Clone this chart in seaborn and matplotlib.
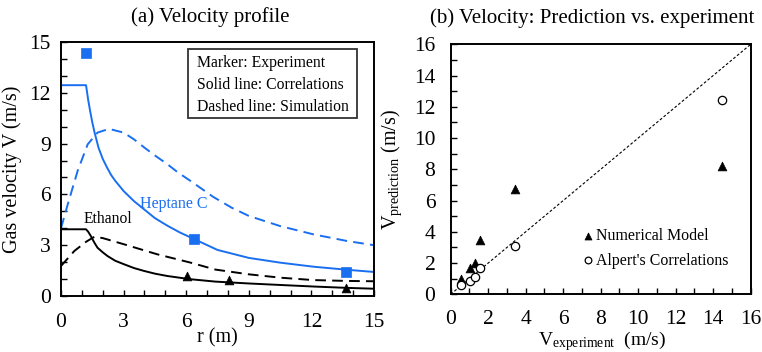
import numpy as np
import pandas as pd
import matplotlib
matplotlib.use("Agg")
import matplotlib.pyplot as plt
from matplotlib.patches import Rectangle
import seaborn as sns

# ---------------- data ----------------
# (a) Velocity profile
hep_corr_r = [0.0, 1.2, 1.3, 1.4, 1.5, 1.6, 1.8, 2.0, 2.2, 2.4, 2.6, 2.8, 3.0, 3.5, 4.0, 4.5, 5.1, 5.7, 6.4, 7.5, 9.0, 10.5, 12.1, 13.7, 15.0]
hep_corr_v = [12.45, 12.45, 11.6, 10.9, 10.25, 9.7, 8.75, 8.1, 7.6, 7.15, 6.8, 6.5, 6.2, 5.6, 5.1, 4.6, 4.15, 3.75, 3.35, 2.72, 2.25, 1.97, 1.73, 1.55, 1.42]

hep_sim_r = [0.0, 0.32, 0.8, 1.28, 1.75, 2.3, 3.0, 3.5, 4.0, 4.5, 5.1, 5.6, 6.2, 7.3, 8.2, 9.0, 10.5, 12.1, 13.7, 15.0]
hep_sim_v = [4.0, 5.4, 7.4, 8.96, 9.65, 9.87, 9.65, 9.25, 8.76, 8.3, 7.78, 7.3, 6.8, 5.85, 5.2, 4.73, 4.13, 3.64, 3.25, 3.0]

eth_corr_r = [0.0, 1.2, 1.3, 1.43, 1.6, 1.75, 2.0, 2.23, 2.6, 3.03, 3.5, 3.98, 4.5, 5.1, 6.21, 7.4, 9.0, 10.53, 12.1, 13.7, 15.0]
eth_corr_v = [3.94, 3.94, 3.8, 3.54, 3.15, 2.85, 2.58, 2.36, 2.08, 1.87, 1.65, 1.48, 1.32, 1.18, 0.99, 0.85, 0.74, 0.65, 0.56, 0.48, 0.43]

eth_sim_r = [0.0, 0.64, 1.2, 1.6, 2.0, 3.03, 4.62, 6.21, 7.4, 9.0, 10.53, 12.1, 13.7, 15.0]
eth_sim_v = [1.77, 2.66, 3.2, 3.5, 3.42, 3.05, 2.46, 1.97, 1.56, 1.28, 1.08, 0.94, 0.89, 0.87]

hep_exp_r = [1.19, 6.37, 13.68]
hep_exp_v = [14.33, 3.35, 1.44]
eth_exp_r = [6.05, 8.06, 13.68]
eth_exp_v = [1.18, 0.93, 0.45]

# (b) Prediction vs experiment
v_exp = [0.55, 1.03, 1.3, 1.57, 3.44, 14.49]
v_num = [0.96, 1.66, 2.02, 3.47, 6.72, 8.23]
v_alpert = [0.6, 0.87, 1.13, 1.66, 3.12, 12.43]

BLUE = "#1a6ff0"

# ---------------- style ----------------
sns.set_theme(style="ticks")
plt.rcParams["font.family"] = ["Liberation Serif", "DejaVu Serif"]
plt.rcParams["mathtext.fontset"] = "custom"
plt.rcParams["mathtext.rm"] = "Liberation Serif"
plt.rcParams["mathtext.it"] = "Liberation Serif:italic"
plt.rcParams["mathtext.bf"] = "Liberation Serif:bold"
plt.rcParams["axes.edgecolor"] = "black"
plt.rcParams["xtick.color"] = "black"
plt.rcParams["ytick.color"] = "black"
plt.rcParams["text.color"] = "black"
plt.rcParams["axes.labelcolor"] = "black"

fig = plt.figure(figsize=(7.62, 3.52), dpi=100)
W, H = 762.0, 352.0
ax1 = fig.add_axes([61 / W, 1 - 296 / H, 313 / W, 254 / H])
ax2 = fig.add_axes([450.7 / W, 1 - 294.3 / H, 300 / W, 250 / H])

dash = (0, (5.5, 3.2))

# ---------------- panel (a) ----------------
sns.lineplot(x=hep_corr_r, y=hep_corr_v, ax=ax1, color=BLUE, lw=1.4, sort=False, estimator=None)
sns.lineplot(x=hep_sim_r, y=hep_sim_v, ax=ax1, color=BLUE, lw=1.4, linestyle=dash, sort=False, estimator=None)
sns.lineplot(x=eth_corr_r, y=eth_corr_v, ax=ax1, color="black", lw=1.4, sort=False, estimator=None)
sns.lineplot(x=eth_sim_r, y=eth_sim_v, ax=ax1, color="black", lw=1.4, linestyle=dash, sort=False, estimator=None)
sns.scatterplot(x=hep_exp_r, y=hep_exp_v, ax=ax1, marker="s", s=45, color=BLUE, edgecolor=BLUE, linewidth=0.5, zorder=5)
sns.scatterplot(x=eth_exp_r, y=eth_exp_v, ax=ax1, marker="^", s=40, color="black", edgecolor="black", linewidth=0.5, zorder=5)

ax1.set_xlim(0, 15)
ax1.set_ylim(0, 15)
ax1.set_xticks(np.arange(0, 16, 3))
ax1.set_yticks(np.arange(0, 16, 3))
ax1.set_xticks(np.arange(0, 16, 1), minor=True)
ax1.set_yticks(np.arange(0, 16, 1), minor=True)
ax1.set_xlabel("r (m)", fontsize=14.5)
ax1.set_ylabel("Gas velocity V (m/s)", fontsize=14.5)
ax1.xaxis.set_label_coords(0.5, (296 - 328) / 254)
ax1.yaxis.set_label_coords((22 - 61) / 313, 0.5)
ax1.tick_params(axis="x", pad=12)
ax1.tick_params(axis="y", pad=7.5)

ax1.text(1.07, 4.31, "Ethanol", fontsize=11.2, color="black", ha="left", va="baseline")
ax1.text(3.79, 5.18, "Heptane C", fontsize=11.5, color=BLUE, ha="left", va="baseline")

x0 = (188.3 - 61) / 313
x1 = (356.7 - 61) / 313
yt = (296 - 49.3) / 254
yb = (296 - 118.3) / 254
ax1.add_patch(Rectangle((x0, yb), x1 - x0, yt - yb, transform=ax1.transAxes,
                        facecolor="white", edgecolor="#333333", lw=1.3, zorder=6))
for txt, yc in [("Marker: Experiment", 63.3), ("Solid line: Correlations", 85.0),
                ("Dashed line: Simulation", 106.7)]:
    ax1.text((196.7 - 61) / 313, (296 - yc) / 254, txt, transform=ax1.transAxes,
             fontsize=11.3, ha="left", va="center", zorder=7)

# ---------------- panel (b) ----------------
ax2.axline((0, 0), slope=1, color="black", lw=0.8, linestyle=(0, (2.5, 1.8)), zorder=1)
sns.scatterplot(x=v_exp, y=v_num, ax=ax2, marker="^", s=40, color="black", edgecolor="black",
                linewidth=0.5, zorder=4, label="Numerical Model")
sns.scatterplot(x=v_exp, y=v_alpert, ax=ax2, marker="o", s=36, facecolor="white", edgecolor="black",
                linewidth=0.9, zorder=5, label="Alpert's Correlations")
ax2.set_xlim(0, 16)
ax2.set_ylim(0, 16)
ax2.set_xticks(np.arange(0, 17, 2))
ax2.set_yticks(np.arange(0, 17, 2))
ax2.set_xticks(np.arange(0, 17, 1), minor=True)
ax2.set_yticks(np.arange(0, 17, 1), minor=True)
ax2.set_xlabel(r"$\mathrm{V_{experiment}}$  (m/s)", fontsize=14)
ax2.set_ylabel(r"$\mathrm{V_{prediction}}$ (m/s)", fontsize=14.5)
ax2.xaxis.set_label_coords((601.7 - 450.7) / 300, (294.3 - 329) / 250)
ax2.yaxis.set_label_coords((404 - 450.7) / 300, 0.5)
ax2.tick_params(axis="x", pad=11.5)
ax2.tick_params(axis="y", pad=11)

leg = ax2.legend(loc="center left", bbox_to_anchor=(585.3 / W, 1 - 248.3 / H),
                 bbox_transform=fig.transFigure, frameon=False, handlelength=0.4,
                 handletextpad=0.25, borderpad=0, borderaxespad=0, labelspacing=0.55,
                 fontsize=11.4, markerscale=0.8)

for ax in (ax1, ax2):
    ax.set_facecolor("white")
    ax.grid(False)
    for sp in ax.spines.values():
        sp.set_visible(True)
        sp.set_linewidth(1.4)
        sp.set_color("black")
    ax.tick_params(which="both", direction="in", top=False, right=False,
                   length=4, width=1.0, labelsize=15.5, colors="black")

fig.text(210 / W, 1 - 17 / H, "(a) Velocity profile", ha="center", va="center", fontsize=15)
fig.text(592 / W, 1 - 18 / H, "(b) Velocity: Prediction vs. experiment", ha="center", va="center", fontsize=15)

fig.savefig("out.png", dpi=100, facecolor="white")
